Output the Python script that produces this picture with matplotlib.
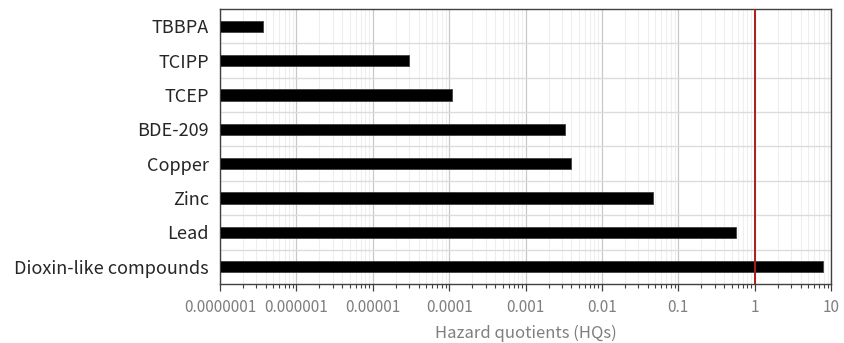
"""Hazard quotients, horizontal bars on a log axis"""
import matplotlib
matplotlib.use("Agg")
from matplotlib import pyplot as plt
from matplotlib.ticker import FixedLocator, LogLocator, NullFormatter

plt.rcParams['font.family'] = ['Noto Sans CJK JP', 'DejaVu Sans']

substances = ["TBBPA", "TCIPP", "TCEP", "BDE-209", "Copper", "Zinc", "Lead",
              "Dioxin-like compounds"]
hq_values = [3.6e-7, 3.0e-5, 1.1e-4, 3.3e-3, 3.9e-3, 0.046, 0.57, 7.9]
tick_values = [1e-7, 1e-6, 1e-5, 1e-4, 1e-3, 1e-2, 1e-1, 1, 10]
tick_labels = ["0.0000001", "0.000001", "0.00001", "0.0001", "0.001",
               "0.01", "0.1", "1", "10"]
threshold = 1

fig = plt.figure(figsize=(8.44, 3.43), dpi=100)
ax = fig.add_axes([0.2607, 0.172, 0.7239, 0.8018])

xmin = 1e-7
ys = list(range(len(substances)))
widths = [v - xmin for v in hq_values]
ax.barh(ys, widths, left=xmin, height=0.33, color="black",
        edgecolor="#404040", linewidth=0.6, zorder=3)

# linha vermelha no HQ = 1
ax.axvline(threshold, color="#b01c1c", linewidth=1.4, zorder=4)

ax.set_xscale("log")
ax.set_xlim(1e-7, 10)
ax.set_ylim(len(substances) - 0.5, -0.5)

ax.set_xticks(tick_values)
ax.set_xticklabels(tick_labels)
ax.xaxis.set_minor_locator(LogLocator(base=10, subs=range(2, 10), numticks=20))
ax.xaxis.set_minor_formatter(NullFormatter())

ax.set_yticks(ys)
ax.set_yticklabels(substances)
ax.yaxis.set_minor_locator(FixedLocator([i + 0.5 for i in range(len(substances) - 1)]))

ax.grid(which="major", axis="x", color="#c8c8c8", linewidth=0.9, zorder=0)
ax.grid(which="minor", axis="x", color="#eeeeee", linewidth=0.8, zorder=0)
ax.grid(which="minor", axis="y", color="#dcdcdc", linewidth=1.0, zorder=0)

ax.tick_params(axis="x", which="major", direction="out", length=5, width=0.9,
               colors="#404040", labelcolor="#7f7f7f", labelsize=11, pad=6)
ax.tick_params(axis="x", which="minor", direction="out", length=3, width=0.8,
               colors="#404040")
ax.tick_params(axis="y", which="both", length=0, labelsize=13,
               labelcolor="#262626", pad=8)

for s in ax.spines.values():
    s.set_color("#404040")
    s.set_linewidth(1.0)

ax.set_xlabel("Hazard quotients (HQs)", fontsize=12, color="#7f7f7f", labelpad=6)

fig.savefig("out.png", dpi=100)
